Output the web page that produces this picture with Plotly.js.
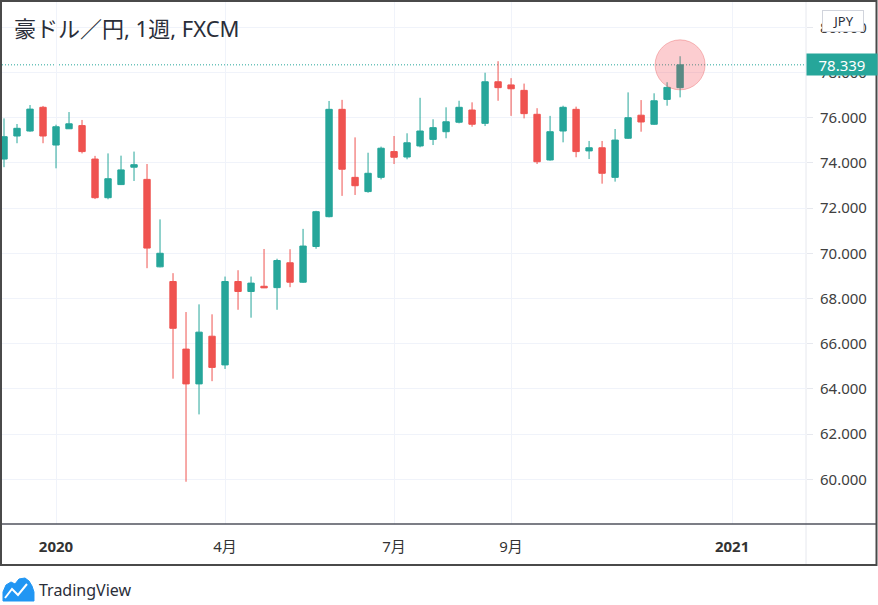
<!DOCTYPE html>
<html>
<head>
<meta charset="utf-8">
<script src="https://cdn.plot.ly/plotly-3.0.1.min.js"></script>
<style>html,body{margin:0;padding:0;background:#fff;}#chart{width:878px;height:605px;}</style>
</head>
<body>
<div id="chart"></div>
<script>
// ---- data (weekly AUD/JPY, FXCM) ----
const dates = ['2019-12-09','2019-12-16','2019-12-23','2019-12-30','2020-01-06','2020-01-13','2020-01-20','2020-01-27',
  '2020-02-03','2020-02-10','2020-02-17','2020-02-24','2020-03-02','2020-03-09','2020-03-16','2020-03-23','2020-03-30',
  '2020-04-06','2020-04-13','2020-04-20','2020-04-27','2020-05-04','2020-05-11','2020-05-18','2020-05-25','2020-06-01',
  '2020-06-08','2020-06-15','2020-06-22','2020-06-29','2020-07-06','2020-07-13','2020-07-20','2020-07-27','2020-08-03',
  '2020-08-10','2020-08-17','2020-08-24','2020-08-31','2020-09-07','2020-09-14','2020-09-21','2020-09-28','2020-10-05',
  '2020-10-12','2020-10-19','2020-10-26','2020-11-02','2020-11-09','2020-11-16','2020-11-23','2020-11-30','2020-12-07'];
const openP  = [74.17,75.19,75.41,76.46,74.79,75.51,75.65,74.17,72.46,73.04,73.81,73.27,69.40,68.75,65.76,64.22,66.33,
  65.06,68.75,68.31,68.54,68.48,69.58,68.72,70.30,71.62,76.37,73.36,72.73,73.36,74.50,74.26,74.75,75.04,75.38,
  75.80,76.34,75.75,77.59,77.45,77.21,76.15,74.13,75.41,76.37,74.53,74.67,73.36,75.09,76.11,75.71,76.81,77.33];
const highP  = [75.97,75.72,76.56,76.52,75.69,76.25,75.90,74.31,74.42,74.32,74.50,73.95,71.50,69.12,67.40,67.74,67.30,
  68.97,69.25,68.97,70.19,69.76,70.18,71.08,71.88,76.74,76.79,75.13,74.45,74.72,75.19,75.31,76.88,75.93,76.46,
  76.75,76.68,77.99,78.50,77.75,77.51,76.42,76.08,76.53,76.49,74.97,74.97,75.50,77.12,76.78,77.08,77.57,78.72];
const lowP   = [73.81,74.87,75.38,74.87,73.76,75.50,74.42,72.40,72.39,73.02,73.20,69.34,69.38,64.45,59.89,62.87,64.34,
  64.88,67.50,67.15,68.46,67.50,68.50,68.69,70.20,71.59,72.54,72.58,72.68,73.27,73.95,74.16,74.69,74.79,75.09,
  75.75,75.60,75.63,76.75,76.08,75.97,73.95,74.10,74.91,74.25,74.17,73.08,73.17,75.06,75.38,75.68,76.53,76.90];
const closeP = [75.16,75.53,76.38,75.19,75.60,75.73,74.50,72.46,73.30,73.69,73.92,70.23,70.00,66.68,64.22,66.51,64.95,
  68.75,68.31,68.68,68.47,69.68,68.72,70.32,71.84,76.37,73.72,72.99,73.54,74.65,74.25,74.89,75.41,75.56,75.82,
  76.46,75.71,77.59,77.33,77.28,76.18,74.05,75.38,76.46,74.50,74.67,73.54,75.01,76.00,75.81,76.75,77.34,78.339];

const priceTicks = [60,62,64,66,68,70,72,74,76,78,80];
const timeTickVals = ['2020-01-06','2020-04-06','2020-07-06','2020-09-07','2021-01-04'];
const timeTickText = ['<b>2020</b>','4月','7月','9月','<b>2021</b>'];
const titleText = '豪ドル／円, 1週, FXCM';
const currencyText = 'JPY';
const brandText = 'TradingView';

// ---- layout helpers (pixel -> paper) ----
const W = 878, H = 605;
const M = {l: 2, r: 72, t: 2, b: 81};
const PW = W - M.l - M.r, PH = H - M.t - M.b;
const px = x => (x - M.l) / PW;
const py = y => (H - M.b - y) / PH;

const UP = '#26a69a', DOWN = '#ef5350';
const FONT = 'Noto Sans, Noto Sans CJK JP, sans-serif';
const last = closeP.length - 1;

const trace = {
  type: 'candlestick',
  x: dates, open: openP, high: highP, low: lowP, close: closeP,
  increasing: {line: {color: UP, width: 1}, fillcolor: UP},
  decreasing: {line: {color: DOWN, width: 1}, fillcolor: DOWN},
  whiskerwidth: 0,
  hoverinfo: 'skip',
  showlegend: false
};

function pathFrom(points) {
  return points.map((p, i) => (i ? 'L' : 'M') + px(p[0]).toFixed(5) + ',' + py(p[1]).toFixed(5)).join(' ');
}

const shapes = [
  // time axis separator
  {type: 'line', xref: 'paper', yref: 'paper', x0: px(0), x1: px(877), y0: py(524), y1: py(524),
   line: {color: '#50535e', width: 1.5}, layer: 'above'},
  // price axis separator
  {type: 'line', xref: 'paper', yref: 'paper', x0: px(806), x1: px(806), y0: py(1), y1: py(565),
   line: {color: '#e6e8ee', width: 1}, layer: 'below'},
  // outer frame
  {type: 'rect', xref: 'paper', yref: 'paper', x0: px(1), x1: px(876.5), y0: py(1), y1: py(565),
   line: {color: '#4a4a4a', width: 2}, fillcolor: 'rgba(0,0,0,0)', layer: 'above'},
  // last price dotted line
  {type: 'line', xref: 'paper', yref: 'y', x0: 0, x1: 1, y0: closeP[last], y1: closeP[last],
   line: {color: UP, width: 1, dash: '1px,2px'}, layer: 'below'},
  // highlight circle on last bar
  {type: 'circle', xref: 'x', yref: 'y', xsizemode: 'pixel', ysizemode: 'pixel',
   xanchor: dates[last], yanchor: closeP[last], x0: -25, x1: 25, y0: -25, y1: 25,
   fillcolor: 'rgba(242,54,69,0.25)', line: {color: 'rgba(230,80,80,0.35)', width: 1}, layer: 'above'},
  // TradingView icon
  {type: 'path', xref: 'paper', yref: 'paper', layer: 'above',
   path: pathFrom([[3,601],[3,592],[6,585],[11,582],[15,584],[19,579],[25,578],[29,581],[32,586],[34,592],[34,601]]) + ' Z',
   fillcolor: '#2196f3', line: {color: '#2196f3', width: 1}},
  {type: 'path', xref: 'paper', yref: 'paper', layer: 'above',
   path: pathFrom([[5,598],[12,589],[18,595],[27,584]]),
   line: {color: '#ffffff', width: 2}}
];

const annotations = [
  {xref: 'paper', yref: 'paper', x: px(12), y: py(28), xanchor: 'left', yanchor: 'middle',
   text: titleText, showarrow: false, font: {family: FONT, size: 22, color: '#2a2e39'}},
  {xref: 'paper', yref: 'y', x: 1, y: closeP[last], xanchor: 'left', yanchor: 'middle',
   text: closeP[last].toFixed(3), showarrow: false, bgcolor: UP, borderpad: 2, width: 66, height: 17, align: 'center',
   font: {family: FONT, size: 15, color: '#ffffff'}},
  {xref: 'paper', yref: 'paper', x: px(843), y: py(21), xanchor: 'center', yanchor: 'middle',
   text: currencyText, showarrow: false, bgcolor: '#ffffff', bordercolor: '#d1d4dc', borderwidth: 1, borderpad: 1,
   width: 38, height: 18, font: {family: FONT, size: 13, color: '#2a2e39'}},
  {xref: 'paper', yref: 'paper', x: px(37), y: py(590), xanchor: 'left', yanchor: 'middle',
   text: brandText, showarrow: false, font: {family: FONT, size: 16, color: '#2a2e39'}}
];

const layout = {
  width: W, height: H,
  margin: M,
  paper_bgcolor: '#ffffff', plot_bgcolor: '#ffffff',
  showlegend: false, hovermode: false, dragmode: false,
  xaxis: {
    type: 'date', range: ['2019-12-07 22:00', '2021-02-12 19:00'],
    tickmode: 'array', tickvals: timeTickVals, ticktext: timeTickText,
    showgrid: true, gridcolor: '#f0f3fa', gridwidth: 1, zeroline: false, showline: false,
    ticks: '', ticklabelstandoff: 12,
    tickfont: {family: FONT, size: 15, color: '#333333'},
    rangeslider: {visible: false}, fixedrange: true
  },
  yaxis: {
    side: 'right', range: [58.02, 81.12],
    tickmode: 'array', tickvals: priceTicks, tickformat: '.3f',
    showgrid: true, gridcolor: '#f0f3fa', gridwidth: 1, zeroline: false, showline: false,
    ticks: 'outside', ticklen: 6, tickcolor: '#e6e8ee', ticklabelstandoff: 4,
    tickfont: {family: FONT, size: 15, color: '#404040'}, fixedrange: true
  },
  shapes: shapes,
  annotations: annotations
};

Plotly.newPlot('chart', [trace], layout, {displayModeBar: false, staticPlot: true});
</script>
</body>
</html>
